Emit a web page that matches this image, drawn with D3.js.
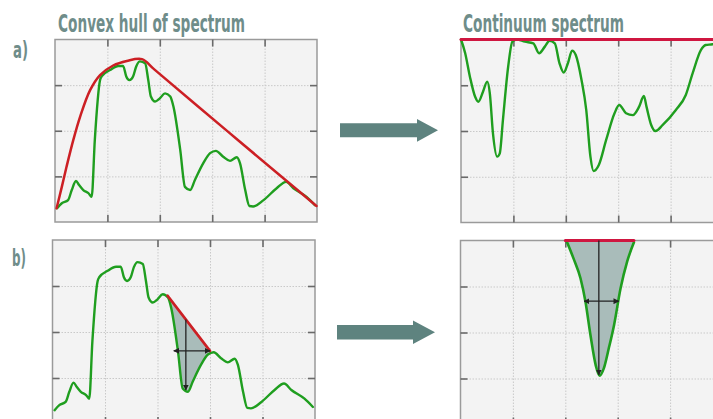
<!DOCTYPE html>
<html>
<head>
<meta charset="utf-8">
<script src="https://cdn.jsdelivr.net/npm/d3@7"></script>
<style>
  body { margin: 0; background: #fff; }
</style>
</head>
<body>
<svg id="fig" width="713" height="419"></svg>
<script>
// reflectance spectrum (left panels): x in grid units 0-5, y 0-4
const specX = [0.04,0.13,0.25,0.32,0.40,0.46,0.54,0.64,0.70,0.76,0.86,0.89,1.05,1.21,1.30,1.36,1.42,1.49,1.55,1.62,1.72,1.78,1.83,1.91,2.00,2.10,2.20,2.26,2.39,2.48,2.58,2.67,2.83,2.96,3.07,3.21,3.34,3.47,3.53,3.63,3.71,3.78,3.98,4.23,4.41,4.55,4.80,4.96];
const specY = [0.30,0.41,0.48,0.70,0.90,0.81,0.70,0.63,0.55,1.80,3.11,3.19,3.33,3.42,3.42,3.19,3.11,3.19,3.41,3.52,3.48,3.11,2.75,2.64,2.71,2.82,2.75,2.53,1.58,0.77,0.70,0.92,1.29,1.51,1.56,1.43,1.34,1.42,1.29,0.70,0.35,0.34,0.48,0.74,0.88,0.74,0.55,0.37];

// convex hull (red)
const hullX = [0.03,0.13,0.22,0.35,0.48,0.67,0.86,1.11,1.37,1.66,1.90,3.30,4.41,4.99];
const hullY = [0.30,0.77,1.21,1.80,2.31,2.89,3.22,3.43,3.53,3.57,3.34,1.98,0.91,0.35];

// continuum removed spectrum (top right), y 0-1
const contX = [0,0.08,0.17,0.27,0.33,0.42,0.50,0.55,0.61,0.69,0.74,0.80,0.90,0.98,1.06,1.22,1.38,1.49,1.60,1.69,1.79,1.88,1.96,2.04,2.12,2.19,2.30,2.39,2.47,2.53,2.63,2.77,2.93,3.02,3.15,3.28,3.40,3.49,3.54,3.63,3.71,3.85,4.10,4.29,4.42,4.58,4.67,4.80,4.92,5.0];
const contY = [1.0,0.925,0.797,0.687,0.66,0.715,0.77,0.706,0.487,0.36,0.378,0.56,0.851,0.988,1.0,0.988,0.979,0.925,0.961,0.993,0.979,0.87,0.819,0.87,0.939,0.915,0.779,0.615,0.36,0.281,0.314,0.451,0.597,0.642,0.597,0.587,0.633,0.691,0.633,0.533,0.50,0.533,0.615,0.697,0.815,0.943,0.97,0.974,0.985,0.99];
const contLine = [[0, 1], [5, 1]];

// single absorption band (bottom right)
const bandX = [2.03,2.16,2.29,2.385,2.48,2.58,2.655,2.735,2.83,2.93,3.055,3.18,3.31];
const bandY = [0.993,0.90,0.795,0.667,0.486,0.323,0.265,0.305,0.414,0.54,0.74,0.885,0.99];
const bandTop = [[2.0, 1.0], [3.31, 1.0]];
const bandDepth = [[2.64, 1.0], [2.64, 0.27]];
const bandWidth = [[2.36, 0.67], [3.02, 0.67]];

// local hull segment on the spectrum (bottom left)
const segLine = [[2.19, 2.79], [3.0, 1.59]];
const segDepth = [[2.54, 2.27], [2.54, 0.74]];
const segWidth = [[2.31, 1.59], [3.0, 1.59]];

const xTicks = [1, 2, 3, 4];
const yTicksL = [1, 2, 3];
const yTicksR = [0.25, 0.5, 0.75];
const titles = ['Convex hull of spectrum', 'Continuum spectrum'];
const rowLabels = ['a)', 'b)'];

const green = '#1f9e1f', red = '#cc1f24', crimson = '#cf1640';
const titleCol = '#6f8d8a', arrowCol = '#5e837f';

const svg = d3.select('#fig');

const defs = svg.append('defs');
defs.append('marker')
    .attr('id', 'head')
    .attr('viewBox', '0 0 10 10')
    .attr('refX', 9).attr('refY', 5)
    .attr('markerWidth', 4.5).attr('markerHeight', 4.5)
    .attr('orient', 'auto-start-reverse')
  .append('path')
    .attr('d', 'M0,0L10,5L0,10z')
    .attr('fill', '#222');

function panel(x0, y0, w, h, yMax, yTicks) {
    var g = svg.append('g').attr('transform', 'translate(' + x0 + ',' + y0 + ')');
    var xs = d3.scaleLinear().domain([0, 5]).range([0, w]);
    var ys = d3.scaleLinear().domain([0, yMax]).range([h, 0]);

    g.append('rect').attr('width', w).attr('height', h).attr('fill', '#f3f3f3');

    // dotted grid
    var gx = g.append('g').call(d3.axisBottom(xs).tickValues(xTicks).tickSize(h).tickFormat(''));
    var gy = g.append('g').call(d3.axisRight(ys).tickValues(yTicks).tickSize(w).tickFormat(''));
    [gx, gy].forEach(function(a) {
        a.select('.domain').remove();
        a.selectAll('line').attr('stroke', '#c9c9c9').attr('stroke-width', 1).attr('stroke-dasharray', '1.5,1.5');
    });

    g.append('rect').attr('width', w).attr('height', h)
        .attr('fill', 'none').attr('stroke', '#9a9a9a').attr('stroke-width', 1.5);

    // inward ticks on all four sides
    var tk = [
        g.append('g').call(d3.axisTop(xs).tickValues(xTicks).tickSize(-7).tickFormat('')),
        g.append('g').attr('transform', 'translate(0,' + h + ')').call(d3.axisBottom(xs).tickValues(xTicks).tickSize(-7).tickFormat('')),
        g.append('g').call(d3.axisLeft(ys).tickValues(yTicks).tickSize(-7).tickFormat('')),
        g.append('g').attr('transform', 'translate(' + w + ',0)').call(d3.axisRight(ys).tickValues(yTicks).tickSize(-7).tickFormat(''))
    ];
    tk.forEach(function(a) {
        a.select('.domain').remove();
        a.selectAll('line').attr('stroke', '#6a6a6a').attr('stroke-width', 1.6);
    });

    return { g: g, xs: xs, ys: ys };
}

function drawLine(p, xsArr, ysArr, color, curve, width) {
    var pts = xsArr.map(function(d, i) { return [d, ysArr[i]]; });
    p.g.append('path')
        .attr('d', d3.line().x(function(d) { return p.xs(d[0]); }).y(function(d) { return p.ys(d[1]); }).curve(curve)(pts))
        .attr('fill', 'none').attr('stroke', color).attr('stroke-width', width || 2.4)
        .attr('stroke-linejoin', 'round').attr('stroke-linecap', 'round');
}

function drawArrow(p, seg, both) {
    p.g.append('line')
        .attr('x1', p.xs(seg[0][0])).attr('y1', p.ys(seg[0][1]))
        .attr('x2', p.xs(seg[1][0])).attr('y2', p.ys(seg[1][1]))
        .attr('stroke', '#222').attr('stroke-width', 1.3)
        .attr('marker-end', 'url(#head)')
        .attr('marker-start', both ? 'url(#head)' : null);
}

// a) left: spectrum and its convex hull
var tl = panel(55, 39.5, 262, 182.5, 4, yTicksL);
drawLine(tl, specX, specY, green, d3.curveMonotoneX);
drawLine(tl, hullX, hullY, red, d3.curveCatmullRom, 2.5);

// a) right: continuum removed
var tr = panel(461, 39.5, 262, 183, 1, yTicksR);
drawLine(tr, contX, contY, green, d3.curveMonotoneX);
drawLine(tr, contLine.map(function(d) { return d[0]; }), contLine.map(function(d) { return d[1]; }), crimson, d3.curveLinear, 3);

// b) left: single feature on the spectrum
var bl = panel(52.5, 240, 262.5, 184, 4, yTicksL);
var clipPts = [segLine[0], segLine[1], [segLine[1][0], 0], [segLine[0][0], 0]]
    .map(function(d) { return [bl.xs(d[0]), bl.ys(d[1])]; });
defs.append('clipPath').attr('id', 'segclip')
    .append('path').attr('d', 'M' + clipPts.join('L') + 'Z');
var specPts = specX.map(function(d, i) { return [d, specY[i]]; });
bl.g.append('path')
    .attr('clip-path', 'url(#segclip)')
    .attr('d', d3.area().x(function(d) { return bl.xs(d[0]); })
        .y0(function(d) { return bl.ys(d[1]); }).y1(bl.ys(4))
        .curve(d3.curveMonotoneX)(specPts))
    .attr('fill', '#a9bcba');
drawLine(bl, specX, specY, green, d3.curveMonotoneX);
drawLine(bl, segLine.map(function(d) { return d[0]; }), segLine.map(function(d) { return d[1]; }), red, d3.curveLinear, 2.6);
drawArrow(bl, segDepth, false);
drawArrow(bl, segWidth, true);

// b) right: feature after continuum removal
var br = panel(460.5, 240.5, 262, 184, 1, yTicksR);
var bandPts = bandX.map(function(d, i) { return [d, bandY[i]]; });
br.g.append('path')
    .attr('d', d3.area().x(function(d) { return br.xs(d[0]); })
        .y0(function(d) { return br.ys(d[1]); }).y1(br.ys(1))
        .curve(d3.curveMonotoneX)(bandPts))
    .attr('fill', '#a9bcba');
drawLine(br, bandX, bandY, green, d3.curveMonotoneX, 2.6);
drawLine(br, bandTop.map(function(d) { return d[0]; }), bandTop.map(function(d) { return d[1]; }), crimson, d3.curveLinear, 3);
drawArrow(br, bandDepth, false);
drawArrow(br, bandWidth, true);

// block arrows between the columns
var bigArrows = [
    { x0: 340, x1: 417, x2: 438, yc: 130.3, sh: 7, hh: 11.4 },
    { x0: 337, x1: 413, x2: 435, yc: 332.2, sh: 7.2, hh: 11.7 }
];
bigArrows.forEach(function(a) {
    var pts = [[a.x0, a.yc - a.sh], [a.x1, a.yc - a.sh], [a.x1, a.yc - a.hh], [a.x2, a.yc],
               [a.x1, a.yc + a.hh], [a.x1, a.yc + a.sh], [a.x0, a.yc + a.sh]];
    svg.append('path').attr('d', 'M' + pts.join('L') + 'Z').attr('fill', arrowCol);
});

// titles and row labels, squeezed horizontally to a condensed look
function label(txt, x, y, width, size) {
    var t = svg.append('text').text(txt)
        .style('font', 'bold ' + size + 'px "Liberation Sans Narrow", "DejaVu Sans Condensed", sans-serif')
        .attr('fill', titleCol);
    var sx = width / t.node().getComputedTextLength();
    t.attr('transform', 'translate(' + x + ',' + y + ') scale(' + sx + ',1)');
}
label(titles[0], 58, 31.5, 187, 24);
label(titles[1], 463, 31.5, 161, 24);
label(rowLabels[0], 13, 57.5, 15, 23);
label(rowLabels[1], 12, 265.5, 14, 23);
</script>
</body>
</html>
